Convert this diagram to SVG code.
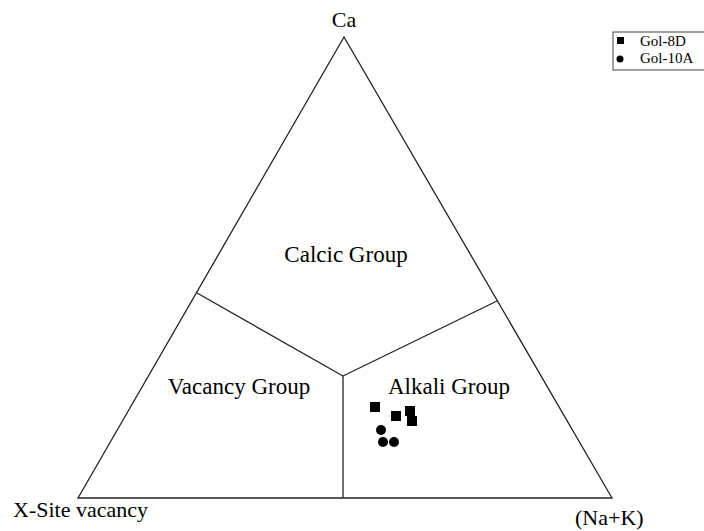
<svg xmlns="http://www.w3.org/2000/svg" width="704" height="531" viewBox="0 0 704 531">
<style>
text{font-family:"Liberation Serif","Times New Roman",serif;fill:#000}
.grp{font-size:23px}
.ax{font-size:22px}
.leg{font-size:15px}
.ln{stroke:#222;stroke-width:1.3;fill:none}
</style>
<rect width="704" height="531" fill="#fff"/>
<g id="triangle"><polygon class="ln" points="344,37 78,498 612,498"/></g>
<g id="connectors">
<line class="ln" x1="197" y1="293" x2="343" y2="376"/>
<line class="ln" x1="497" y1="301" x2="343" y2="376"/>
<line class="ln" x1="343" y1="376" x2="343" y2="498"/>
</g>
<g id="labels">
<text class="ax" x="344" y="27" text-anchor="middle" font-size="24">Ca</text>
<text class="grp" x="346" y="262" text-anchor="middle">Calcic Group</text>
<text class="grp" x="239" y="394" text-anchor="middle">Vacancy Group</text>
<text class="grp" x="388" y="394">Alkali Group</text>
<text class="ax" x="13" y="517">X-Site vacancy</text>
<text class="ax" x="575" y="525">(Na+K)</text>
</g>
<g id="data">
<rect x="370" y="402" width="10" height="10"/>
<rect x="391" y="411" width="10" height="10"/>
<rect x="405" y="406" width="10" height="10"/>
<rect x="407" y="416" width="10" height="10"/>
<circle cx="381" cy="430" r="5"/>
<circle cx="383" cy="442" r="5"/>
<circle cx="394" cy="442" r="5"/>
</g>
<g id="legend">
<rect x="613" y="32" width="95" height="38" fill="#fff" stroke="#444" stroke-width="1"/>
<rect x="617" y="37" width="7" height="7"/>
<circle cx="620" cy="59" r="3.5"/>
<text class="leg" x="640" y="46">Gol-8D</text>
<text class="leg" x="640" y="63">Gol-10A</text>
</g>
</svg>
